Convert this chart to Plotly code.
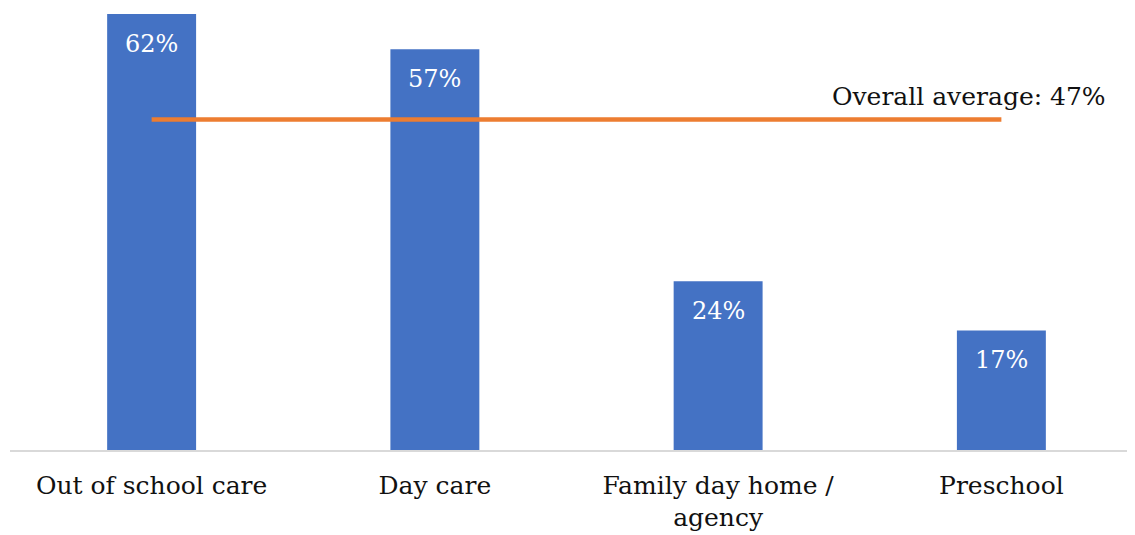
import plotly.graph_objects as go

categories = ["Out of school care", "Day care", "Family day home /<br>agency", "Preschool"]
values = [62, 57, 24, 17]
labels = ["62%", "57%", "24%", "17%"]
average = 47
average_label = "Overall average: 47%"

FONT = "DejaVu Serif"

fig = go.Figure()
fig.add_trace(go.Bar(
    x=list(range(len(categories))), y=values,
    marker=dict(color="#4472C4", line=dict(width=0)),
    width=0.314, hoverinfo="skip",
))
fig.add_trace(go.Scatter(
    x=[0, len(categories) - 1], y=[average, average],
    mode="lines", line=dict(color="#ED7D31", width=4.5), hoverinfo="skip",
))

for i, (v, t) in enumerate(zip(values, labels)):
    fig.add_annotation(x=i, y=v, text=t, showarrow=False, yanchor="top", yshift=-14,
                       font=dict(family=FONT, size=24, color="white"))

fig.add_annotation(x=3.375, y=average, text=average_label, showarrow=False,
                   xanchor="right", yanchor="middle", yshift=23,
                   font=dict(family=FONT, size=25, color="#111111"))

fig.update_layout(
    width=1135, height=535,
    margin=dict(l=2, r=0, t=0, b=93),
    plot_bgcolor="white", paper_bgcolor="white",
    showlegend=False,
    font=dict(family=FONT, size=25, color="#111111"),
    xaxis=dict(
        range=[-0.5, 3.5], tickmode="array", tickvals=list(range(len(categories))),
        ticktext=categories, showgrid=False, zeroline=False,
        showline=True, linecolor="#d9d9d9", linewidth=1.5, ticks="",
        ticklabelstandoff=12, tickfont=dict(family=FONT, size=25, color="#111111"),
    ),
    yaxis=dict(range=[0, 62.87], visible=False, showgrid=False, zeroline=False),
)

fig.write_html("out.html")
